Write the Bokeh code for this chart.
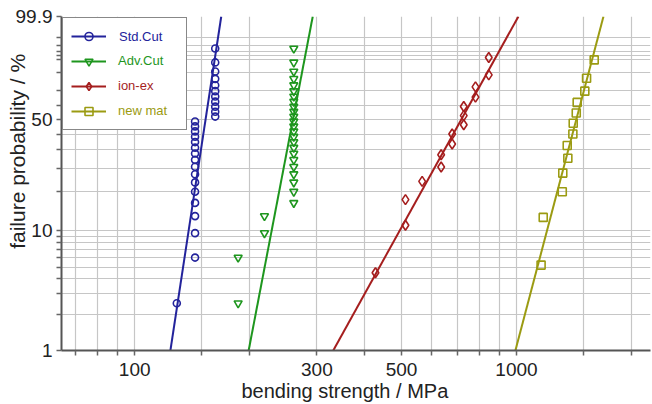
import numpy as np
from bokeh.plotting import figure
from bokeh.models import (FixedTicker, CustomJSTickFormatter, Range1d, Legend,
                          LegendItem)
from bokeh.core.properties import value
from bokeh.embed import file_html
from bokeh.resources import INLINE

# ---------------- data ----------------
series_names = ["Std.Cut", "Adv.Cut", "ion-ex", "new mat"]
series_colors = ["#23239b", "#1e961e", "#a51e1e", "#9b9b12"]
series_markers = ["circle", "inverted_triangle", "diamond", "square"]

# bending strength / MPa
std_strength = [128.9, 143.9, 143.9, 143.9, 143.9, 143.9, 143.9, 143.9, 143.9,
                143.9, 143.9, 143.9, 143.9, 143.9, 143.9, 143.9, 143.9,
                162.5, 162.5, 162.5, 162.5, 162.5, 162.5, 162.5, 162.5,
                162.5, 162.5, 162.5]
std_prob = [2.5, 6.0, 9.5, 13.0, 16.5, 20.1, 23.6, 27.1, 30.6, 34.2, 37.7, 41.2,
            44.7, 48.2, 51.8, 55.3, 58.8, 62.3, 65.8, 69.4, 72.9, 76.4, 79.9,
            83.5, 87.0, 90.5, 94.0, 97.5]

adv_strength = [186.6, 186.6, 218.7, 218.7, 261.0, 261.0, 261.0, 261.0, 261.0,
                261.0, 261.0, 261.0, 261.0, 261.0, 261.0, 261.0, 261.0, 261.0,
                261.0, 261.0, 261.0, 261.0, 261.0, 261.0, 261.0, 261.0, 261.0,
                261.0]
adv_prob = [2.5, 6.0, 9.5, 13.0, 16.5, 20.1, 23.6, 27.1, 30.6, 34.2, 37.7, 41.2,
            44.7, 48.2, 51.8, 55.3, 58.8, 62.3, 65.8, 69.4, 72.9, 76.4, 79.9,
            83.5, 87.0, 90.5, 94.0, 97.5]

ion_strength = [427.2, 511.9, 511.9, 566.1, 634.8, 634.8, 678.4, 678.4, 727.5,
                727.5, 727.5, 780.9, 780.9, 846.0, 846.0]
ion_prob = [4.5, 11.0, 17.5, 24.0, 30.5, 37.0, 43.5, 50.0, 56.5, 63.0, 69.5,
            76.0, 82.5, 89.0, 95.5]

new_strength = [1160, 1175, 1318, 1322, 1363, 1358, 1405, 1408, 1434, 1442,
                1510, 1526, 1598]
new_prob = [5.2, 12.7, 20.1, 27.6, 35.1, 42.5, 50.0, 57.5, 64.9, 72.4, 79.9,
            87.3, 94.8]

# Weibull fit lines: modulus m and characteristic strength s0 / MPa
fit_modulus = [21.3, 16.9, 5.85, 12.3]
fit_s0 = [153.9, 261.0, 727.0, 1444.0]

# axes
x_grid_values = [70, 80, 90, 100, 150, 200, 300, 400, 500, 600, 700, 800, 900,
                 1000, 1500, 2000]
x_label_values = [100, 300, 500, 1000]
y_grid_values = [1, 2, 3, 4, 5, 6, 7, 8, 9, 10, 20, 30, 40, 50, 60, 70, 80, 90,
                 95, 96, 97, 98, 99, 99.9]
# label positions as they appear in the picture (the "50" label sits on the 60 line)
y_label_positions = [1, 10, 60, 99.9]
y_label_texts = ["1", "10", "50", "99.9"]
x_title = "bending strength / MPa"
y_title = "failure probability / %"
x_min, x_max = 64.3, 2244.0
y_min, y_max = 1.0, 99.9


def wb(p):
    """Weibull probability scale: ln(-ln(1-F))."""
    return np.log(-np.log(1.0 - np.asarray(p, dtype=float) / 100.0))


FONT = "Liberation Sans"
TXT = "#222222"
NBSP = "\u00a0"
W, H, BL, BR, BT, BB = 652, 404, 61, 2, 16, 54

p = figure(width=W, height=H, x_axis_type="log",
           x_range=Range1d(x_min, x_max),
           y_range=Range1d(float(wb(y_min)), float(wb(y_max))),
           output_backend="svg", toolbar_location=None,
           min_border_left=BL, min_border_right=BR, min_border_top=BT,
           min_border_bottom=BB)
p.outline_line_color = None
p.background_fill_color = "white"
p.border_fill_color = "white"

# ticks / grid
xt = FixedTicker(ticks=x_grid_values, minor_ticks=[])
yt = FixedTicker(ticks=[float(v) for v in wb(y_grid_values)], minor_ticks=[])
p.xaxis.ticker = xt
p.yaxis.ticker = yt
p.xgrid.ticker = xt
p.ygrid.ticker = yt
p.xaxis.formatter = CustomJSTickFormatter(
    args=dict(vals=x_label_values),
    code="for (let i=0;i<vals.length;i++){ if (Math.abs(tick-vals[i])<1e-6) return String(vals[i]); } return '';")
p.yaxis.formatter = CustomJSTickFormatter(
    args=dict(vals=[float(v) for v in wb(y_label_positions)], texts=y_label_texts),
    code="for (let i=0;i<vals.length;i++){ if (Math.abs(tick-vals[i])<1e-6) return texts[i]; } return '';")

for g in (p.xgrid, p.ygrid):
    g.grid_line_color = "#c6c6c6"
    g.grid_line_width = 1.2
for ax in (p.xaxis, p.yaxis):
    ax.axis_line_color = "#555555"
    ax.axis_line_width = 2
    ax.major_tick_line_color = "#666666"
    ax.major_tick_line_width = 1.5
    ax.major_tick_in = 0
    ax.major_tick_out = 5
    ax.minor_tick_line_color = None
    ax.major_label_text_font = FONT
    ax.major_label_text_font_size = "19px"
    ax.major_label_text_color = TXT
    ax.axis_label_text_font = FONT
    ax.axis_label_text_font_style = "normal"
    ax.axis_label_text_color = TXT
p.xaxis.major_label_standoff = 7
p.yaxis.major_label_standoff = 4

# axis titles (non-breaking spaces only shift the title off-centre as in the picture)
p.yaxis.axis_label = NBSP * 11 + y_title
p.yaxis.axis_label_text_font_size = "21px"
p.yaxis.axis_label_standoff = -16
p.xaxis.axis_label = x_title + NBSP * 4
p.xaxis.axis_label_text_font_size = "20px"
p.xaxis.axis_label_standoff = 1

# data series
strengths = [std_strength, adv_strength, ion_strength, new_strength]
probs = [std_prob, adv_prob, ion_prob, new_prob]
marker_sizes = [7, 8, 10, 8]
renderer_pairs = []
for name, col, mk, ms, s, pr, m, s0 in zip(series_names, series_colors,
                                            series_markers, marker_sizes,
                                            strengths, probs, fit_modulus, fit_s0):
    wline = wb([y_min, y_max])
    sline = s0 * np.exp(wline / m)
    lr = p.line(sline, wline, line_color=col, line_width=2)
    sr = p.scatter(s, wb(pr), marker=mk, size=ms, line_color=col,
                   fill_color=None, line_width=1.6)
    renderer_pairs.append([lr, sr])

# Legend: identical layouts stacked at the same spot; the first one carries the
# box and the glyphs, every layer shows one text in its series colour.
PAD = 8
common = dict(location="top_left", padding=PAD, spacing=5,
              glyph_height=20, glyph_width=35, label_standoff=13,
              label_width=59, label_height=20, label_text_font=FONT,
              label_text_font_size="13px")
for k, (name, col) in enumerate(zip(series_names, series_colors)):
    its = []
    for j, rp in enumerate(renderer_pairs):
        its.append(LegendItem(label=value(name if j == k else ""),
                              renderers=rp if k == 0 else []))
    if k == 0:
        lg = Legend(items=its, label_text_color=col, margin=1,
                    border_line_color="#111111", border_line_width=1.5,
                    background_fill_color="white", background_fill_alpha=1,
                    **common)
    else:
        # text-only layers are laid out without the padding, so shift them by it
        lg = Legend(items=its, label_text_color=col, margin=1 + PAD,
                    border_line_color=None, background_fill_alpha=0, **common)
    p.add_layout(lg, "center")

open("out.html", "w").write(file_html(p, INLINE))
